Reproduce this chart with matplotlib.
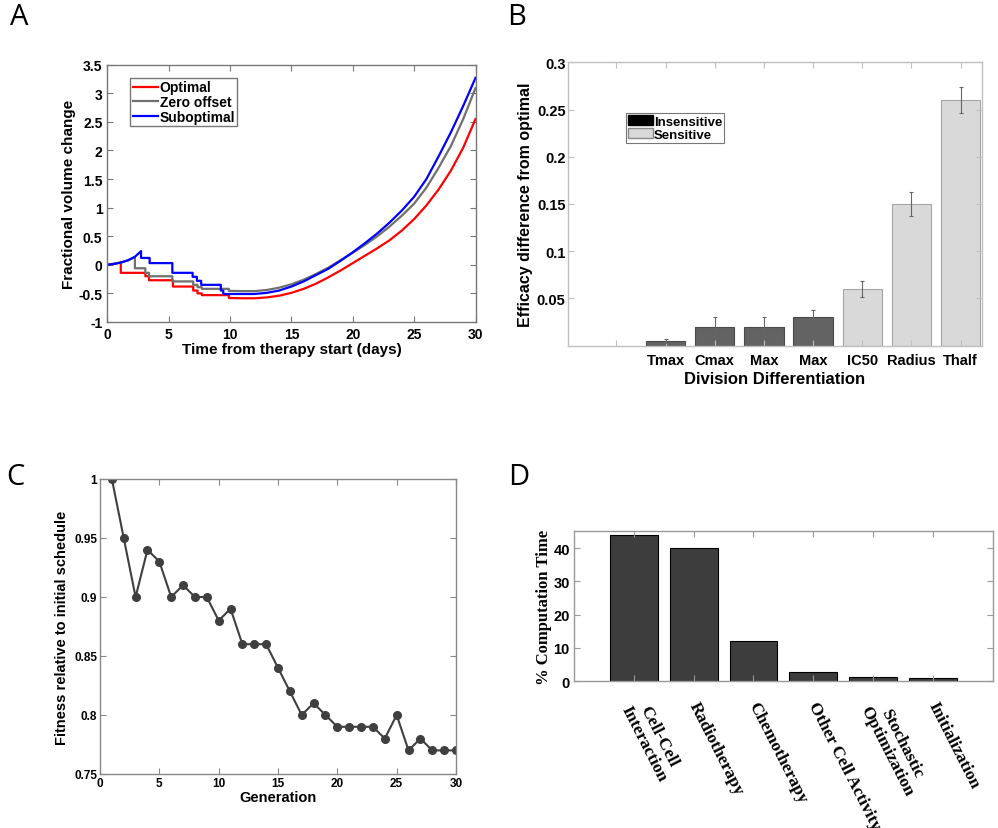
import numpy as np
import matplotlib
matplotlib.use("Agg")
import matplotlib.pyplot as plt
from matplotlib.patches import Patch
from matplotlib.transforms import blended_transform_factory

plt.rcParams["font.family"] = ["Liberation Sans", "DejaVu Sans"]
plt.rcParams["font.weight"] = "bold"
plt.rcParams["axes.labelweight"] = "bold"

# ---- Panel A: fractional volume change (steps first, then smooth regrowth)
t_opt = [0, 0.5, 1.1, 1.1, 3.1, 3.1, 3.4, 3.4, 5.35, 5.35, 7.0, 7.0, 7.35, 7.35, 7.7, 7.7, 9.9, 9.9,
         11, 12, 13, 14, 15, 16, 17, 18, 19, 20, 21, 22, 23, 24, 25, 26, 27, 28, 29, 30]
v_opt = [0, 0.015, 0.04, -0.14, -0.14, -0.2, -0.2, -0.27, -0.27, -0.38, -0.38, -0.45, -0.45, -0.5, -0.5, -0.53, -0.53, -0.58,
         -0.585, -0.585, -0.57, -0.54, -0.49, -0.42, -0.33, -0.22, -0.10, 0.03, 0.16, 0.29, 0.43, 0.60, 0.80, 1.04, 1.32, 1.65, 2.05, 2.55]
t_zero = [0, 0.5, 1.1, 1.7, 2.25, 2.25, 3.1, 3.1, 3.4, 3.4, 5.3, 5.3, 7.0, 7.0, 7.35, 7.35, 7.7, 7.7, 9.9, 9.9,
          11, 12, 13, 14, 15, 16, 17, 18, 19, 20, 21, 22, 23, 24, 25, 26, 27, 28, 29, 30]
v_zero = [0, 0.015, 0.04, 0.08, 0.14, -0.06, -0.06, -0.14, -0.14, -0.2, -0.2, -0.29, -0.29, -0.35, -0.35, -0.39, -0.39, -0.42, -0.42, -0.455,
          -0.46, -0.46, -0.44, -0.40, -0.34, -0.26, -0.16, -0.05, 0.08, 0.21, 0.35, 0.50, 0.67, 0.86, 1.07, 1.35, 1.70, 2.08, 2.55, 3.09]
t_sub = [0, 0.5, 1.1, 1.7, 2.25, 2.75, 2.75, 3.45, 3.45, 5.3, 5.3, 6.95, 6.95, 7.3, 7.3, 7.65, 7.65, 9.25, 9.25, 9.45, 9.45,
         11, 12, 13, 14, 15, 16, 17, 18, 19, 20, 21, 22, 23, 24, 25, 26, 27, 28, 29, 30]
v_sub = [0, 0.015, 0.04, 0.08, 0.14, 0.24, 0.12, 0.12, 0.03, 0.03, -0.14, -0.14, -0.21, -0.21, -0.28, -0.28, -0.35, -0.35, -0.45, -0.45, -0.51,
         -0.51, -0.51, -0.49, -0.45, -0.38, -0.29, -0.18, -0.07, 0.07, 0.22, 0.38, 0.55, 0.74, 0.95, 1.19, 1.50, 1.90, 2.32, 2.78, 3.27]

# ---- Panel B: efficacy difference
b_labels = ["Tmax", "Cmax", "Max", "Max", "IC50", "Radius", "Thalf"]
b_vals = [0.005, 0.02, 0.02, 0.03, 0.06, 0.15, 0.26]
b_err = [0.0025, 0.01, 0.01, 0.008, 0.008, 0.0125, 0.014]
b_sens = [False, False, False, False, True, True, True]

# ---- Panel C: fitness per generation
gen = np.arange(1, 31)
fitness = [1.0, 0.95, 0.90, 0.94, 0.93, 0.90, 0.91, 0.90, 0.90, 0.88,
           0.89, 0.86, 0.86, 0.86, 0.84, 0.82, 0.80, 0.81, 0.80, 0.79,
           0.79, 0.79, 0.79, 0.78, 0.80, 0.77, 0.78, 0.77, 0.77, 0.77]

# ---- Panel D: computation time
d_labels = ["Cell-Cell\nInteraction", "Radiotherapy", "Chemotherapy",
            "Other Cell Activity", "Stochastic\nOptimization", "Initialization"]
d_vals = [44, 40, 12, 2.9, 1.3, 1.0]

W, H = 998, 829
fig = plt.figure(figsize=(W / 100, H / 100), dpi=100)

def box(l, t, r, b):
    return fig.add_axes([l / W, 1 - b / H, (r - l) / W, (b - t) / H])

def style(a, col):
    for s in a.spines.values():
        s.set_color(col); s.set_linewidth(1.0)
    a.tick_params(direction="in", top=True, right=True, color=col, length=4, width=0.8, labelsize=10)

def letter(x, y, s):
    fig.text(x / W, 1 - y / H, s, fontsize=21, fontweight="normal", family="Open Sans", va="top", ha="left")

# A
a = box(107.3, 65.7, 475.5, 323)
a.plot(t_opt, v_opt, color="#ff0000", lw=1.6, label="Optimal")
a.plot(t_zero, v_zero, color="#707070", lw=1.6, label="Zero offset")
a.plot(t_sub, v_sub, color="#0000ff", lw=1.6, label="Suboptimal")
a.set_xlim(0, 30); a.set_ylim(-1, 3.5)
a.set_xticks(range(0, 31, 5))
a.set_yticks(np.arange(-1, 3.51, 0.5))
a.set_yticklabels(["-1", "-0.5", "0", "0.5", "1", "1.5", "2", "2.5", "3", "3.5"])
style(a, "#777777")
a.set_xlabel("Time from therapy start (days)", fontsize=11, labelpad=1)
a.set_ylabel("Fractional volume change", fontsize=11, labelpad=2)
lg = a.legend(loc="upper left", bbox_to_anchor=(0.063, 0.947), borderaxespad=0, fancybox=False,
              fontsize=10, handlelength=1.8, handletextpad=0.15, labelspacing=0.05, borderpad=0.15)
lg.get_frame().set_edgecolor("#555555"); lg.get_frame().set_linewidth(1.0)
letter(10, 3, "A")

# B
b = box(568.3, 63.3, 981.7, 346.7)
xb = np.arange(3, 3 + len(b_vals))
for x, v, e, s in zip(xb, b_vals, b_err, b_sens):
    b.bar(x, v, width=0.8, color="#d9d9d9" if s else "#636363",
          edgecolor="#a5a5a5" if s else "#4a4a4a", linewidth=0.8)
    b.errorbar(x, v, yerr=e, color="#666666", lw=0.8, capsize=1.5, capthick=0.8)
b.set_xlim(1.02, 9.43); b.set_ylim(0, 0.3)
b.set_xticks(np.arange(2, 10))
b.set_xticklabels([""] + b_labels)
b.set_yticks([0.05, 0.1, 0.15, 0.2, 0.25, 0.3])
b.set_yticklabels(["0.05", "0.1", "0.15", "0.2", "0.25", "0.3"])
style(b, "#c0c0c0")
b.tick_params(labelsize=10.5)
b.tick_params(axis="y", pad=2)
b.tick_params(axis="x", pad=5)
b.set_xlabel("Division Differentiation", fontsize=12, labelpad=3)
b.set_ylabel("Efficacy difference from optimal", fontsize=11.5, labelpad=3)
hb = [Patch(facecolor="black", edgecolor="black", label="Insensitive"),
      Patch(facecolor="#d9d9d9", edgecolor="#888888", label="Sensitive")]
lg = b.legend(handles=hb, loc="upper left", bbox_to_anchor=(0.139, 0.82), borderaxespad=0, fancybox=False,
              fontsize=9.5, handlelength=1.9, handleheight=0.8, handletextpad=0.1, labelspacing=0.0, borderpad=0.15)
lg.get_frame().set_edgecolor("#555555"); lg.get_frame().set_linewidth(0.8)
letter(507, 3, "B")

# C
c = box(100, 480, 456, 775)
c.plot(gen, fitness, color="#3f3f3f", lw=1.5, marker="o", ms=5.5)
c.set_xlim(0, 30); c.set_ylim(0.75, 1.0)
c.set_xticks(range(0, 31, 5))
c.set_yticks([0.75, 0.8, 0.85, 0.9, 0.95, 1.0])
c.set_yticklabels(["0.75", "0.8", "0.85", "0.9", "0.95", "1"])
style(c, "#888888")
c.tick_params(labelsize=8.5, pad=2)
c.set_xlabel("Generation", fontsize=10.5, labelpad=1)
c.set_ylabel("Fitness relative to initial schedule", fontsize=10.5, labelpad=4)
letter(6, 463, "C")

# D
d = box(574, 531.7, 992.7, 682.3)
xd = np.arange(1, len(d_vals) + 1)
d.bar(xd, d_vals, width=0.8, color="#3d3d3d", edgecolor="black", linewidth=0.8)
d.set_xlim(0, 7); d.set_ylim(0, 45.2)
d.set_xticks(xd); d.set_xticklabels([])
d.set_yticks([0, 10, 20, 30, 40])
style(d, "#999999")
d.tick_params(labelsize=10.5, pad=3)
d.set_ylabel("% Computation Time", fontsize=12, family="Liberation Serif", labelpad=1)
tr = blended_transform_factory(d.transData, d.transAxes)
for x, lab in zip(xd, d_labels):
    d.text(x - 0.02, -0.14, lab, transform=tr, rotation=-63, rotation_mode="anchor",
           ha="left", va="center", multialignment="center", family="Liberation Serif",
           fontsize=12.5, fontweight="bold", linespacing=1.0)
letter(508, 463, "D")

fig.savefig("out.png", dpi=100)
